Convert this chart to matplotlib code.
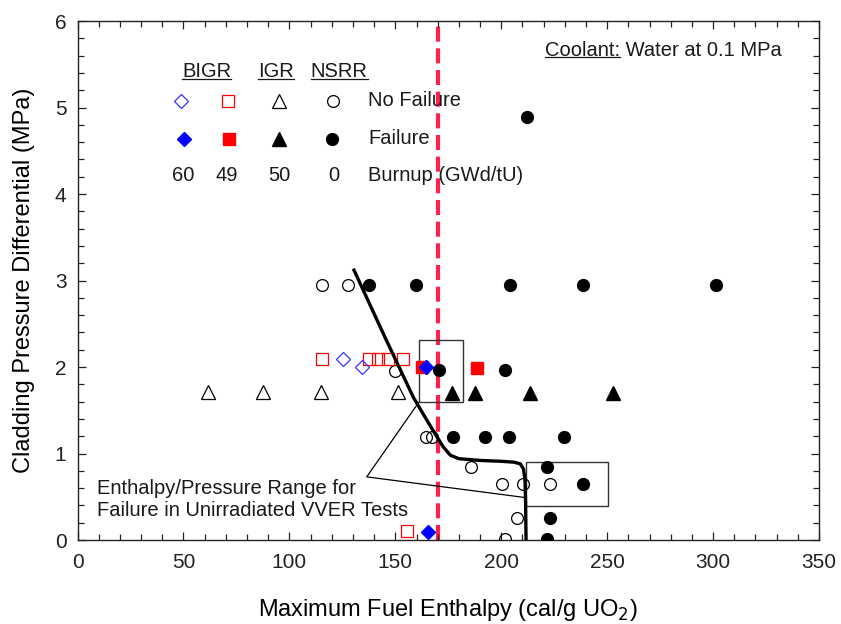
import numpy as np
import matplotlib.pyplot as plt
from matplotlib.patches import Rectangle
from matplotlib.ticker import MultipleLocator

# NSRR (0 GWd/tU)
nsrr_ok_x = [115.4, 127.7, 149.9, 164.5, 167.2, 185.6, 200.2, 210.1, 223.0, 207.6, 201.8]
nsrr_ok_y = [2.95, 2.95, 1.95, 1.19, 1.19, 0.84, 0.65, 0.65, 0.65, 0.26, 0.01]
nsrr_fail_x = [212.0, 137.7, 159.8, 204.1, 238.5, 301.4, 170.5, 201.8,
               177.1, 192.3, 203.8, 229.8, 221.5, 238.7, 223.0, 221.5]
nsrr_fail_y = [4.89, 2.95, 2.95, 2.95, 2.95, 2.95, 1.97, 1.97,
               1.19, 1.19, 1.19, 1.19, 0.84, 0.65, 0.26, 0.01]

# IGR (50 GWd/tU)
igr_ok_x = [61.5, 87.7, 114.8, 151.4]
igr_ok_y = [1.71, 1.71, 1.71, 1.71]
igr_fail_x = [176.6, 187.6, 213.6, 252.6]
igr_fail_y = [1.70, 1.70, 1.70, 1.70]

# BIGR 60 GWd/tU
bigr60_ok_x = [125.5, 134.3]
bigr60_ok_y = [2.09, 2.0]
bigr60_fail_x = [164.4, 165.6]
bigr60_fail_y = [2.0, 0.09]

# BIGR 49 GWd/tU
bigr49_ok_x = [115.3, 137.7, 142.0, 146.7, 153.5, 155.4]
bigr49_ok_y = [2.09, 2.09, 2.09, 2.09, 2.09, 0.10]
bigr49_fail_x = [162.5, 188.4]
bigr49_fail_y = [2.0, 1.99]

# failure threshold curve
curve_x = [130.5, 145, 158.5, 165, 169.5, 172.5, 176, 180, 190, 200, 206, 209, 210.5, 211.2, 211.5, 211.7]
curve_y = [3.12, 2.35, 1.65, 1.38, 1.20, 1.08, 0.98, 0.94, 0.92, 0.91, 0.90, 0.88, 0.82, 0.70, 0.40, 0.0]

limit_enthalpy = 170

# VVER test ranges: (x0, x1, y0, y1)
box_a = (161.0, 182.0, 1.59, 2.31)
box_b = (211.6, 250.4, 0.39, 0.90)
note_xy = (136.5, 0.73)

txt = '#1a1a1a'
sans = ['Liberation Sans', 'DejaVu Sans']
narrow = ['Liberation Sans Narrow', 'Liberation Sans', 'DejaVu Sans']

fig = plt.figure(figsize=(8.41, 6.24), dpi=100)
ax = fig.add_axes([0.0922, 0.1346, 0.8817, 0.8317])

ax.axvline(limit_enthalpy, color='#ff2050', lw=3, dashes=(3.6, 1.6), zorder=1)

ax.plot(nsrr_ok_x, nsrr_ok_y, 'o', ms=8.5, mfc='none', mec='k', mew=0.9, zorder=3)
ax.plot(nsrr_fail_x, nsrr_fail_y, 'o', ms=8.5, mfc='k', mec='k', zorder=3)
ax.plot(igr_ok_x, igr_ok_y, '^', ms=9.5, mfc='none', mec='k', mew=0.9, zorder=3)
ax.plot(igr_fail_x, igr_fail_y, '^', ms=9.5, mfc='k', mec='k', zorder=3)
ax.plot(bigr49_ok_x, bigr49_ok_y, 's', ms=8, mfc='none', mec='red', mew=0.9, zorder=3)
ax.plot(bigr49_fail_x, bigr49_fail_y, 's', ms=8, mfc='red', mec='red', zorder=3)
ax.plot(bigr60_ok_x, bigr60_ok_y, 'D', ms=6.8, mfc='none', mec='#3333ff', mew=0.9, zorder=3)
ax.plot(bigr60_fail_x, bigr60_fail_y, 'D', ms=6.8, mfc='blue', mec='blue', zorder=4)

ax.plot(curve_x, curve_y, color='k', lw=2.4, solid_joinstyle='round', zorder=5)

for x0, x1, y0, y1 in (box_a, box_b):
    ax.add_patch(Rectangle((x0, y0), x1 - x0, y1 - y0, fill=False, ec='#333333', lw=1.0, zorder=2))
ax.plot([box_a[0], note_xy[0], box_b[0]], [box_a[2], note_xy[1], 0.49], color='k', lw=0.9, zorder=2)

ax.text(0.0259, 0.078, 'Enthalpy/Pressure Range for\nFailure in Unirradiated VVER Tests',
        transform=ax.transAxes, ha='left', va='center', fontsize=14.5, family=sans,
        color=txt, linespacing=1.15)

# legend block
heads = []
for label, xa in [('BIGR', 0.1742), ('IGR', 0.2677), ('NSRR', 0.3527)]:
    heads.append(ax.text(xa, 0.9023, label, transform=ax.transAxes, ha='center', va='center',
                         fontsize=14.5, family=sans, color=txt))

row1, row2, row3 = 0.8465, 0.7736, 0.7033
kw = dict(transform=ax.transAxes, clip_on=False)
ax.plot(0.1392, row1, 'D', ms=6.8, mfc='none', mec='#3333ff', mew=0.9, **kw)
ax.plot(0.2034, row1, 's', ms=8, mfc='none', mec='red', mew=0.9, **kw)
ax.plot(0.2722, row1, '^', ms=9.5, mfc='none', mec='k', mew=0.9, **kw)
ax.plot(0.3442, row1, 'o', ms=8.5, mfc='none', mec='k', mew=0.9, **kw)
ax.plot(0.1440, row2, 'D', ms=6.8, mfc='blue', mec='blue', **kw)
ax.plot(0.2047, row2, 's', ms=8, mfc='red', mec='red', **kw)
ax.plot(0.2722, row2, '^', ms=9.5, mfc='k', mec='k', **kw)
ax.plot(0.3428, row2, 'o', ms=8.5, mfc='k', mec='k', **kw)
for label, xa in [('60', 0.1419), ('49', 0.2012), ('50', 0.2717), ('0', 0.3450)]:
    ax.text(xa, row3, label, transform=ax.transAxes, ha='center', va='center',
            fontsize=14.5, family=sans, color=txt)
for label, ya in [('No Failure', row1), ('Failure', row2), ('Burnup (GWd/tU)', row3)]:
    ax.text(0.3922, ya, label, transform=ax.transAxes, ha='left', va='center',
            fontsize=14.5, family=sans, color=txt)

cool = ax.text(0.6305, 0.9441, 'Coolant:', transform=ax.transAxes, ha='left', va='center',
               fontsize=14.5, family=sans, color=txt)
ax.annotate(' Water at 0.1 MPa', xy=(1, 0), xycoords=cool, ha='left', va='bottom',
            fontsize=14.5, family=sans, color=txt)

ax.set_xlim(0, 350)
ax.set_ylim(0, 6)
ax.xaxis.set_major_locator(MultipleLocator(50))
ax.xaxis.set_minor_locator(MultipleLocator(10))
ax.yaxis.set_major_locator(MultipleLocator(1))
ax.yaxis.set_minor_locator(MultipleLocator(0.2))
ax.tick_params(which='both', direction='in', top=True, right=True, colors='#222222')
ax.tick_params(which='major', length=6, width=0.9)
ax.tick_params(which='minor', length=4, width=0.9)
ax.tick_params(axis='x', pad=9)
ax.tick_params(axis='y', pad=8)
for lab in ax.get_xticklabels() + ax.get_yticklabels():
    lab.set_family(narrow)
    lab.set_fontsize(15)
    lab.set_color('#222222')
for s in ax.spines.values():
    s.set_linewidth(1.0)
    s.set_color('#222222')

ax.set_xlabel('Maximum Fuel Enthalpy (cal/g UO$_2$)', fontsize=17, family=sans, color='k')
ax.set_ylabel('Cladding Pressure Differential (MPa)', fontsize=17, family=sans, color='k')
ax.xaxis.set_label_coords(0.5, -0.11)
ax.yaxis.set_label_coords(-0.058, 0.5)

# underline the column headings and the coolant tag
fig.canvas.draw()
r = fig.canvas.get_renderer()
inv = ax.transAxes.inverted()
for t in heads + [cool]:
    bb = t.get_window_extent(r)
    (x0, y0), (x1, _) = inv.transform([(bb.x0, bb.y0 + 2.5), (bb.x1, bb.y0 + 2.5)])
    ax.plot([x0, x1], [y0, y0], color=txt, lw=0.9, transform=ax.transAxes, clip_on=False)

fig.savefig('out.png', dpi=100)
